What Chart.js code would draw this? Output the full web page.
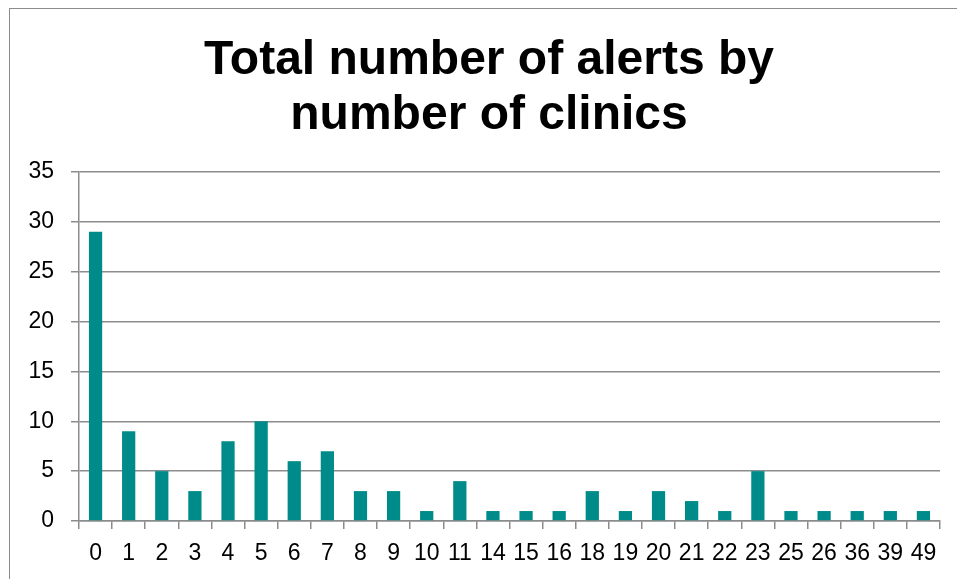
<!DOCTYPE html>
<html>
<head>
<meta charset="utf-8">
<script src="https://cdn.jsdelivr.net/npm/chart.js@4/dist/chart.umd.min.js"></script>
<style>
  body { margin: 0; overflow: hidden; background: #fff; }
  #frame { position: absolute; left: 9px; top: 8px; width: 1000px; height: 650px; border: 1px solid #8c8c8c; }
  #wrap { position: absolute; left: 0; top: 0; width: 957px; height: 579px; }
</style>
</head>
<body>
<div id="frame"></div>
<div id="wrap"><canvas id="alerts"></canvas></div>
<script>
// data
const clinics = ['0', '1', '2', '3', '4', '5', '6', '7', '8', '9', '10', '11', '14', '15', '16', '18', '19', '20', '21', '22', '23', '25', '26', '36', '39', '49'];
const alerts = [29, 9, 5, 3, 8, 10, 6, 7, 3, 3, 1, 4, 1, 1, 1, 3, 1, 3, 2, 1, 5, 1, 1, 1, 1, 1];
const yTicks = [0, 5, 10, 15, 20, 25, 30, 35];
const titleLines = ['Total number of alerts by', 'number of clinics'];

const gridGray = '#8c8c8c';
const fontFamily = 'Liberation Sans, Arial, sans-serif';

// title sits a bit left of the plot centre in the original, so draw it ourselves
const titlePlugin = {
    id: 'chartTitle',
    afterDraw: function (chart) {
        const c = chart.ctx;
        c.save();
        c.fillStyle = '#000';
        c.font = 'bold 48px ' + fontFamily;
        c.textAlign = 'center';
        c.textBaseline = 'alphabetic';
        titleLines.forEach(function (line, i) {
            c.fillText(line, 489, 74 + i * 55);
        });
        c.restore();
    }
};

const ctx = document.getElementById('alerts').getContext('2d');
const chart = new Chart(ctx, {
    type: 'bar',
    data: {
        labels: clinics,
        datasets: [{
            data: alerts,
            backgroundColor: '#008b8b',
            borderWidth: 0,
            barPercentage: 0.4,
            categoryPercentage: 1
        }]
    },
    plugins: [titlePlugin],
    options: {
        responsive: true,
        maintainAspectRatio: false,
        animation: false,
        layout: { padding: { left: 0, right: 17, top: 172, bottom: 0 } },
        plugins: {
            legend: { display: false },
            tooltip: { enabled: false },
            title: { display: false }
        },
        scales: {
            x: {
                grid: { display: true, drawOnChartArea: false, drawTicks: true, tickLength: 8, color: gridGray, lineWidth: 1.5, offset: true },
                border: { display: true, color: gridGray, width: 1.5 },
                ticks: {
                    color: '#000', maxRotation: 0, minRotation: 0, autoSkip: false, padding: 11,
                    font: { family: fontFamily, size: 23 }
                },
                afterFit: function (scale) { scale.height = 58; }
            },
            y: {
                min: 0,
                max: 35,
                afterBuildTicks: function (scale) { scale.ticks = yTicks.map(v => ({ value: v })); },
                grid: { color: gridGray, lineWidth: 1.5, tickLength: 8 },
                border: { display: true, color: gridGray, width: 1.5 },
                ticks: {
                    color: '#000', padding: 17,
                    font: { family: fontFamily, size: 23 }
                },
                afterFit: function (scale) { scale.width = 79; }
            }
        }
    }
});
</script>
</body>
</html>
